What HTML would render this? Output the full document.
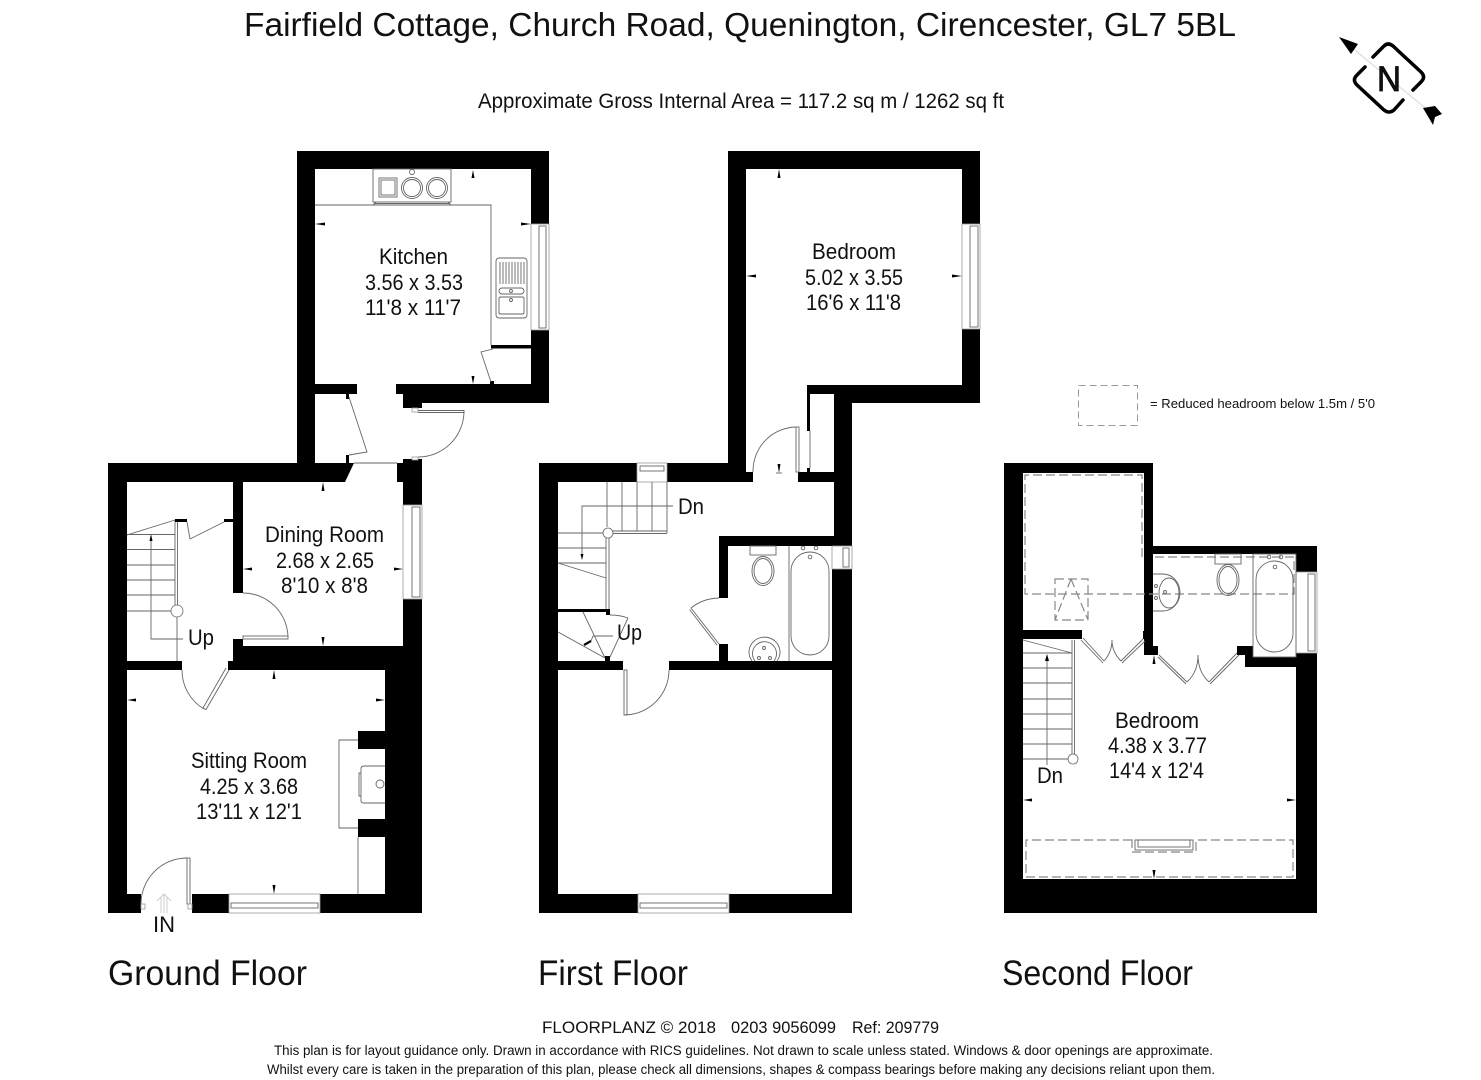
<!DOCTYPE html>
<html><head><meta charset="utf-8"><style>
html,body{margin:0;padding:0;background:#fff}
svg{display:block}
text{font-family:"Liberation Sans",sans-serif;fill:#111;text-anchor:start}
.l{fill:none;stroke:#666;stroke-width:.9}
.w{fill:#fff;stroke:#999;stroke-width:.8}
.d{fill:none;stroke:#888;stroke-width:1.2;stroke-dasharray:9 4}
.b{fill:#000}
</style></head><body>
<svg width="1481" height="1080" viewBox="0 0 1481 1080" xmlns="http://www.w3.org/2000/svg">
<rect width="1481" height="1080" fill="#fff"/>
<!-- headings -->
<text x="244" y="36" font-size="33" textLength="992" lengthAdjust="spacingAndGlyphs">Fairfield Cottage, Church Road, Quenington, Cirencester, GL7 5BL</text>
<text x="478" y="108" font-size="21" textLength="526" lengthAdjust="spacingAndGlyphs">Approximate Gross Internal Area = 117.2 sq m / 1262 sq ft</text>
<!-- compass -->
<line x1="1345" y1="42" x2="1435" y2="116" stroke="#ddd" stroke-width="1.2"/>
<polygon class="b" points="1339,37 1358,44 1351,54"/>
<polygon class="b" points="1423,108 1435,106 1442,114 1435,117 1433,125"/>
<path d="M1373,57 L1384,46 Q1388,42 1393,46 L1421,72 Q1426,77 1421,82 L1413,90 M1365,67 L1357,75 Q1352,80 1357,85 L1384,110 Q1389,114 1394,110 L1403,100" fill="none" stroke="#000" stroke-width="3.5" stroke-linecap="round"/>
<text x="1377" y="91" font-size="35" textLength="24" lengthAdjust="spacingAndGlyphs" stroke="#000" stroke-width=".8">N</text>

<!-- GROUND FLOOR walls -->
<path class="b" d="M297,151H549V224H531V169H315V384H357V394H349V399H346V394H315V463H346V455H349V463H354L345,482H243V593H233V482H127V661H182V670H127V894H141V913H108V463H297Z"/>
<path class="b" d="M531,330H549V403H422V408H403V394H396V384H531Z"/>
<path class="b" d="M403,459H422V505H403V482H397V463H403Z"/>
<path class="b" d="M403,599H422V913H320V894H385V837H358V819H385V749H358V731H385V670H228V661H233V639H243V646H403Z"/>
<path class="b" d="M192,894H229V913H192Z"/>
<!-- windows ground -->
<rect class="w" x="531" y="224" width="18" height="106"/><rect class="l" x="539" y="226" width="7" height="102"/>
<rect class="w" x="403" y="505" width="19" height="94"/><rect class="l" x="412" y="507" width="8" height="90"/>
<rect class="w" x="229" y="894" width="91" height="19"/><rect class="l" x="231" y="903" width="87" height="5"/>
<!-- kitchen fittings -->
<path class="l" d="M315,205H491V345"/>
<rect class="b" x="491" y="345" width="40" height="3.5"/>
<rect class="b" x="490" y="381" width="4" height="3"/>
<path class="l" d="M493,349L481,352L491,382"/>
<rect class="l" x="373" y="169" width="78" height="33"/><path class="l" d="M373,205L376,202M451,205L448,202M374,203.500H450"/>
<rect class="l" x="379" y="178" width="18" height="19" stroke-width="1.4"/><rect class="l" x="381" y="180" width="14" height="15"/>
<circle class="l" cx="412" cy="188" r="10.500"/><circle class="l" cx="412" cy="188" r="8.500"/>
<circle class="l" cx="437" cy="188" r="10.500"/><circle class="l" cx="437" cy="188" r="8.500"/>
<circle class="l" cx="412" cy="172" r="2.500"/>
<rect class="l" x="496" y="258" width="31" height="60" rx="3"/>
<path class="l" d="M500,262V284M503,262V284M506,262V284M509,262V284M512,262V284M515,262V284M518,262V284M521,262V284M524,262V284"/>
<rect class="l" x="499" y="288" width="25" height="6" rx="3"/><rect class="l" x="499" y="297" width="25" height="17" rx="1.500"/>
<circle class="l" cx="511" cy="291" r="1.500"/><circle class="l" cx="511" cy="300" r="1.500"/>
<!-- lobby doors -->
<path class="l" d="M349,397L367,452L349,455"/>
<path class="l" d="M418,410.500H464V412.500H418M464,412.500A46,46 0 0 1 418,457"/>
<rect class="w" x="412" y="408" width="6" height="4"/><rect class="w" x="412" y="457" width="6" height="3"/>
<path class="l" d="M354,463H397"/>
<!-- dining door -->
<path class="l" d="M243,593A45,45 0 0 1 288,637"/><rect class="l" x="243" y="636" width="45" height="3"/>
<!-- ground stairs -->
<path class="l" d="M127,535L175,520M127,534.500H175M127,549.500H175M127,565H175M127,580H175M127,595H175M127,611H171"/>
<path class="l" d="M175,520V605M177.500,520V605M177,617V661"/>
<circle class="w" cx="177" cy="611" r="6" style="stroke:#666"/>
<rect class="b" x="175" y="519" width="12" height="3"/><rect class="b" x="224" y="519" width="9" height="3"/>
<path class="l" d="M187,522L190,539L224,522"/>
<path class="l" d="M151,538V639H183"/>
<polygon class="b" points="151,534 149.500,541 152.500,541"/>
<!-- sitting door -->
<path class="l" d="M182,670A45,45 0 0 0 204,709"/><path class="l" d="M226,668L203,708L206,709.500L229,670"/>
<!-- entry door -->
<path class="l" d="M187,858A46,46 0 0 0 141,904"/>
<rect class="l" x="187" y="858" width="3" height="46"/>
<rect class="w" x="141" y="904" width="4" height="5"/><rect class="w" x="188" y="904" width="4" height="5"/>
<path d="M164,913V894M157,901L164,894L171,901M161,913V898M167,913V898" fill="none" stroke="#ccc" stroke-width="1"/>
<!-- fireplace -->
<path class="l" d="M358,740H339V828H358M358,837V894"/>
<path class="l" d="M385,766H364Q361,766 361,769V801Q361,803 364,803H385M361,773H359V796H361"/>
<circle class="l" cx="380" cy="784" r="4"/>

<!-- FIRST FLOOR walls -->
<path class="b" d="M539,463H637V482H558V894H638V913H539Z"/>
<path class="b" d="M667,463H728V151H980V224H962V169H746V472H753V482H667Z"/>
<path class="b" d="M962,329H980V403H852V546H834V482H798V472H807V468H810V472H834V394H810V431H807V385H962Z"/>
<rect class="b" x="719" y="536" width="133" height="10"/>
<rect class="b" x="719" y="536" width="9" height="62"/>
<rect class="b" x="832" y="569" width="20" height="344"/>
<path class="b" d="M729,894H832V913H729Z"/>
<path class="b" d="M669,661H832V670H669ZM719,644H728V661H719ZM558,661H623V670H558ZM558,609H609V612H558ZM606,609H610V615H606ZM605,656H610V661H605Z"/>
<!-- first windows -->
<rect class="w" x="962" y="224" width="18" height="105"/><rect class="l" x="970" y="226" width="8" height="101"/>
<rect class="w" x="637" y="463" width="30" height="19"/><rect class="l" x="640" y="466" width="24" height="5"/>
<rect class="w" x="832" y="546" width="20" height="23"/><rect class="l" x="843" y="548" width="6" height="19"/>
<rect class="w" x="638" y="894" width="91" height="19"/><rect class="l" x="640" y="903" width="87" height="5"/>
<!-- first stairs -->
<path class="l" d="M607,482V527M622,482V531M637,482V531M652,482V531M667,482V533M613,531H667M613,533.500H667M558,533H603M558,548H606M558,563H606M558,563L606,578M606,538V609M609,538V609"/>
<circle class="w" cx="608" cy="533" r="5" style="stroke:#666"/>
<path class="l" d="M673,506H582V555"/>
<polygon class="b" points="582,560 580.500,554 583.500,554"/>
<!-- winders -->
<path class="l" d="M583,612L605,658M558,632L605,658M610,657L628,618M610,615Q620,615 628,618M593,636H613M591,641L593,636"/>
<path d="M584,645L591,641" stroke="#000" stroke-width="2.200" fill="none"/>
<!-- first doors -->
<path class="l" d="M796,427A44,44 0 0 0 753,472"/><rect class="l" x="796" y="427" width="3" height="45"/>
<path class="l" d="M810,431V468"/>
<path class="l" d="M719,598A46,46 0 0 0 691,608"/><path class="l" d="M691,608L719,644M689.500,609.500L717,645"/>
<path class="l" d="M669,670A45,45 0 0 1 624,715"/><rect class="l" x="624" y="670" width="3" height="45"/>
<!-- bath 1 -->
<path class="l" d="M789,546V661"/>
<rect class="l" x="791" y="552" width="38" height="103" rx="19"/>
<circle class="l" cx="803" cy="548" r="1.800"/><circle class="l" cx="816" cy="548" r="1.800"/><circle class="l" cx="810" cy="557" r="1.800"/>
<rect class="l" x="750" y="546" width="26" height="9"/>
<ellipse class="l" cx="763" cy="571" rx="11" ry="14.500"/><ellipse class="l" cx="763" cy="571" rx="9" ry="12.500"/>
<path class="l" d="M752,661A15.500,15 0 1 1 777,661M755,661A12,12 0 1 1 774,661"/>
<circle class="l" cx="759" cy="658" r="1.500"/><circle class="l" cx="770" cy="658" r="1.500"/><circle class="l" cx="764" cy="648" r="1.500"/>

<!-- SECOND FLOOR walls -->
<path class="b" d="M1004,463H1153V546H1317V572H1296V554H1153V646H1158V655H1144V639H1143V631H1144V473H1023V630H1082V639H1023V879H1296V653H1317V913H1004Z"/>
<path class="b" d="M1237,646H1253V657H1296V667H1245V655H1237Z"/>
<rect class="w" x="1296" y="572" width="21" height="81"/><rect class="l" x="1308" y="574" width="7" height="77"/>
<!-- second dashed -->
<path class="d" d="M1142,557V475H1025V594H1294V557H1153"/>
<path class="d" d="M1055,579H1088V620H1055ZM1071,579L1055,620M1071,579L1088,620" stroke-dasharray="6 4"/>
<path class="d" d="M1132,840H1026V877H1293V840H1196V852H1132Z" stroke-dasharray="9 3"/>
<rect class="l" x="1135" y="840" width="58" height="10"/><rect class="l" x="1138" y="840" width="52" height="7"/>
<!-- second doors -->
<path class="l" d="M1083,638L1104,661M1081,640L1103,663M1143,639L1121,661M1145,641L1122,663M1104,661Q1112,652 1112,640Q1112,652 1121,661"/>
<path class="l" d="M1159,655L1187,682M1158,657L1186,684M1237,653L1209,682M1239,655L1210,684M1187,682Q1198,672 1198,655Q1198,672 1209,682"/>
<!-- second stairs -->
<path class="l" d="M1023,640L1072,653M1023,653H1072M1023,668H1072M1023,683H1072M1023,699H1072M1023,714H1072M1023,729H1072M1023,744H1072M1023,759H1068M1072,640V754M1074.500,640V754M1047,658V765"/>
<circle class="w" cx="1073" cy="759" r="5" style="stroke:#666"/>
<polygon class="b" points="1047,654 1045,661 1049,661"/>
<!-- bath 2 -->
<rect class="l" x="1253" y="554" width="43" height="103"/>
<rect class="l" x="1256" y="561" width="37" height="91" rx="18.500"/>
<circle class="l" cx="1269" cy="557" r="1.800"/><circle class="l" cx="1281" cy="557" r="1.800"/><circle class="l" cx="1275" cy="567" r="1.800"/>
<rect class="l" x="1215" y="554" width="26" height="10"/>
<ellipse class="l" cx="1228" cy="580" rx="11" ry="15.500"/><ellipse class="l" cx="1228" cy="580" rx="9" ry="13.500"/>
<path class="l" d="M1153,574H1163A17,18.500 0 0 1 1163,611H1153"/>
<ellipse class="l" cx="1169" cy="593" rx="10" ry="15"/>
<circle class="l" cx="1156" cy="586" r="1.500"/><circle class="l" cx="1156" cy="598" r="1.500"/><circle class="l" cx="1165" cy="592" r="1.500"/>

<!-- dimension ticks -->
<g class="b">
<polygon points="473,170 471.500,178 474.500,178"/><polygon points="315,224 325,222.500 325,225.500"/><polygon points="531,224 521,222.500 521,225.500"/><polygon points="473,384 471.500,376 474.500,376"/>
<polygon points="323,482 321.500,491 324.500,491"/><polygon points="323,646 321.500,637 324.500,637"/><polygon points="243,569 252,567.500 252,570.500"/><polygon points="403,569 394,567.500 394,570.500"/>
<polygon points="274,670 272.500,679 275.500,679"/><polygon points="127,700 136,698.500 136,701.500"/><polygon points="385,700 376,698.500 376,701.500"/><polygon points="274,894 272.500,885 275.500,885"/>
<polygon points="779,169 777.500,178 780.500,178"/><polygon points="746,276 756,274.500 756,277.500"/><polygon points="962,276 952,274.500 952,277.500"/><polygon points="779,473 777.500,464 780.500,464"/>
<polygon points="1154,655 1152.500,664 1155.500,664"/><polygon points="1023,800 1032,798.500 1032,801.500"/><polygon points="1296,800 1287,798.500 1287,801.500"/><polygon points="1154,879 1152.500,870 1155.500,870"/>
</g>
<path class="l" d="M776,473H782"/>

<!-- room labels -->
<g font-size="22">
<text x="379" y="264" textLength="69" lengthAdjust="spacingAndGlyphs">Kitchen</text>
<text x="365" y="290" textLength="98" lengthAdjust="spacingAndGlyphs">3.56 x 3.53</text>
<text x="365" y="315" textLength="96" lengthAdjust="spacingAndGlyphs">11'8 x 11'7</text>
<text x="812" y="259" textLength="84" lengthAdjust="spacingAndGlyphs">Bedroom</text>
<text x="805" y="285" textLength="98" lengthAdjust="spacingAndGlyphs">5.02 x 3.55</text>
<text x="806" y="310" textLength="95" lengthAdjust="spacingAndGlyphs">16'6 x 11'8</text>
<text x="265" y="542" textLength="119" lengthAdjust="spacingAndGlyphs">Dining Room</text>
<text x="276" y="568" textLength="98" lengthAdjust="spacingAndGlyphs">2.68 x 2.65</text>
<text x="281" y="593" textLength="87" lengthAdjust="spacingAndGlyphs">8'10 x 8'8</text>
<text x="191" y="768" textLength="116" lengthAdjust="spacingAndGlyphs">Sitting Room</text>
<text x="200" y="794" textLength="98" lengthAdjust="spacingAndGlyphs">4.25 x 3.68</text>
<text x="196" y="819" textLength="106" lengthAdjust="spacingAndGlyphs">13'11 x 12'1</text>
<text x="1115" y="728" textLength="84" lengthAdjust="spacingAndGlyphs">Bedroom</text>
<text x="1108" y="753" textLength="99" lengthAdjust="spacingAndGlyphs">4.38 x 3.77</text>
<text x="1109" y="778" textLength="95" lengthAdjust="spacingAndGlyphs">14'4 x 12'4</text>
<text x="188" y="645" textLength="26" lengthAdjust="spacingAndGlyphs">Up</text>
<text x="617" y="640" textLength="25" lengthAdjust="spacingAndGlyphs">Up</text>
<text x="678" y="514" textLength="26" lengthAdjust="spacingAndGlyphs">Dn</text>
<text x="1037" y="783" textLength="26" lengthAdjust="spacingAndGlyphs">Dn</text>
<text x="153" y="932" textLength="22" lengthAdjust="spacingAndGlyphs">IN</text>
</g>
<!-- floor labels -->
<g font-size="35">
<text x="108" y="985" textLength="199" lengthAdjust="spacingAndGlyphs">Ground Floor</text>
<text x="538" y="985" textLength="150" lengthAdjust="spacingAndGlyphs">First Floor</text>
<text x="1002" y="985" textLength="191" lengthAdjust="spacingAndGlyphs">Second Floor</text>
</g>
<!-- legend -->
<rect x="1078.500" y="385.500" width="59" height="40" fill="none" stroke="#999" stroke-width="1" stroke-dasharray="7 4"/>
<text x="1150" y="408" font-size="12.500" textLength="225" lengthAdjust="spacingAndGlyphs">= Reduced headroom below 1.5m / 5'0</text>
<!-- footer -->
<g font-size="16.500">
<text x="542" y="1033" textLength="174" lengthAdjust="spacingAndGlyphs">FLOORPLANZ © 2018</text>
<text x="731" y="1033" textLength="105" lengthAdjust="spacingAndGlyphs">0203 9056099</text>
<text x="852" y="1033" textLength="87" lengthAdjust="spacingAndGlyphs">Ref: 209779</text>
</g>
<text x="274" y="1055" font-size="13.500" textLength="939" lengthAdjust="spacingAndGlyphs">This plan is for layout guidance only. Drawn in accordance with RICS guidelines. Not drawn to scale unless stated. Windows &amp; door openings are approximate.</text>
<text x="267" y="1074" font-size="13.500" textLength="948" lengthAdjust="spacingAndGlyphs">Whilst every care is taken in the preparation of this plan, please check all dimensions, shapes &amp; compass bearings before making any decisions reliant upon them.</text>
</svg>
</body></html>
